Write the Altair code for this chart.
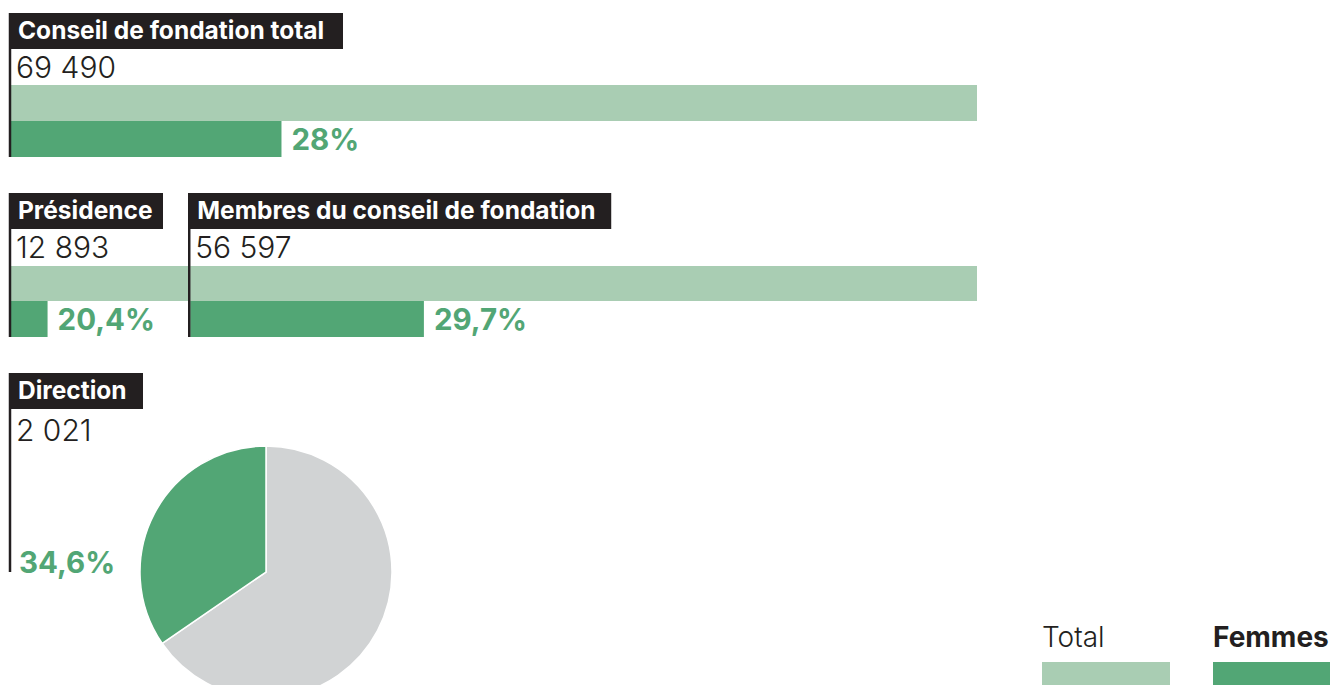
import altair as alt
import pandas as pd

# ---------------- data ----------------
groups = ["Conseil de fondation total", "Présidence", "Membres du conseil de fondation", "Direction"]
totals = [69490, 12893, 56597, 2021]
femmes_pct = [28.0, 20.4, 29.7, 34.6]
total_labels = ["69 490", "12 893", "56 597", "2 021"]
pct_labels = ["28%", "20,4%", "29,7%", "34,6%"]
legend_labels = ["Total", "Femmes"]
pie_parts = ["Autres", "Femmes"]

# ---------------- style / layout ----------------
LIGHT = "#a9cdb3"
DARK = "#52a675"
GREY = "#d1d3d4"
INK = "#231f20"
FONT = "Inter"

W, H = 1322, 677
ORIGIN = 3          # px where value 0 sits
BAR_LEN = 966       # px length of the full total bar

row_of = [0, 1, 1, 2]
box_right = [332, 152, 421, 132]   # px, title box extent right of the group start
ROWS = [
    dict(box=(5, 41), title=31, num=70, light=(77, 113), dark=(113, 149), pct=142, line=(5, 149)),
    dict(box=(185, 221), title=211, num=250, light=(258, 293), dark=(293, 329), pct=322, line=(185, 329)),
    dict(box=(365, 401), title=391, num=433, pct=565, line=(365, 564)),
]
PIE_X, PIE_Y, PIE_R = 258, 564, 126

# starts: Membres follow the Présidence along the same bar
starts = [0, 0, totals[1], 0]

df = pd.DataFrame({
    "group": groups,
    "start": starts,
    "total": totals,
    "end": [s + t for s, t in zip(starts, totals)],
    "fem_end": [s + t * p / 100 for s, t, p in zip(starts, totals, femmes_pct)],
    "num": total_labels,
    "pct": pct_labels,
    "row": row_of,
})

k = BAR_LEN / totals[0]
xs = alt.Scale(domain=[-ORIGIN / k, (W - ORIGIN) / k], nice=False, zero=False)


def X(field):
    return alt.X(f"{field}:Q", scale=xs, axis=None)


layers = []
for r, L in enumerate(ROWS):
    d = df[df["row"] == r].copy()
    base = alt.Chart(d)
    if "light" in L:
        layers.append(base.mark_rect(color=LIGHT).encode(
            x=X("start"), x2="end", y=alt.value(L["light"][0]), y2=alt.value(L["light"][1])))
        layers.append(base.mark_rect(color=DARK).encode(
            x=X("start"), x2="fem_end", y=alt.value(L["dark"][0]), y2=alt.value(L["dark"][1])))
        layers.append(base.mark_text(align="left", baseline="alphabetic", dx=10, font=FONT,
                                     fontSize=29.5, fontWeight="bold", color=DARK).encode(
            x=X("fem_end"), y=alt.value(L["pct"]), text="pct:N"))
    else:
        layers.append(base.mark_text(align="left", baseline="alphabetic", dx=8, font=FONT,
                                     fontSize=29.5, fontWeight="bold", color=DARK).encode(
            x=X("start"), y=alt.value(L["pct"]), text="pct:N"))
    layers.append(base.mark_rule(color=INK, strokeWidth=2.5, xOffset=-1).encode(
        x=X("start"), y=alt.value(L["line"][0]), y2=alt.value(L["line"][1])))
    for i in d.index:
        di = d.loc[[i]]
        layers.append(alt.Chart(di).mark_rect(color=INK, xOffset=-2, x2Offset=box_right[i]).encode(
            x=X("start"), x2="start", y=alt.value(L["box"][0]), y2=alt.value(L["box"][1])))
    layers.append(base.mark_text(align="left", baseline="alphabetic", dx=7, font=FONT,
                                 fontSize=24.5, fontWeight="bold", color="white").encode(
        x=X("start"), y=alt.value(L["title"]), text="group:N"))
    layers.append(base.mark_text(align="left", baseline="alphabetic", dx=5, font=FONT,
                                 fontSize=30, fontWeight=300, color=INK).encode(
        x=X("start"), y=alt.value(L["num"]), text="num:N"))

pie_df = pd.DataFrame({
    "part": pie_parts,
    "value": [100 - femmes_pct[3], femmes_pct[3]],
    "ord": [0, 1],
})
pie = alt.Chart(pie_df).mark_arc(radius=PIE_R, stroke="white", strokeWidth=1.5).encode(
    theta=alt.Theta("value:Q", stack=True),
    color=alt.Color("part:N", scale=alt.Scale(domain=pie_parts, range=[GREY, DARK]), legend=None),
    order=alt.Order("ord:Q"),
    x=alt.value(PIE_X), y=alt.value(PIE_Y),
)
layers.append(pie)

leg_df = pd.DataFrame({"label": legend_labels})
leg_x = [1034, 1205]
leg_weights = [300, "bold"]
leg_sizes = [28, 28]
for lab, lx, w, fs, c in zip(legend_labels, leg_x, leg_weights, leg_sizes, [LIGHT, DARK]):
    dl = leg_df[leg_df["label"] == lab]
    layers.append(alt.Chart(dl).mark_text(align="left", baseline="alphabetic", font=FONT,
                                          fontSize=fs, fontWeight=w, color=INK).encode(
        x=alt.value(lx), y=alt.value(639), text="label:N"))
    layers.append(alt.Chart(dl).mark_rect(color=c).encode(
        x=alt.value(lx), x2=alt.value(lx + 128), y=alt.value(654), y2=alt.value(690)))

chart = alt.layer(*layers).properties(
    width=W, height=H, padding=0, autosize=alt.AutoSizeParams(type="none"),
    background="white",
).configure_view(stroke=None)

chart.save("out.html", embed_options={"renderer": "svg", "actions": False})
